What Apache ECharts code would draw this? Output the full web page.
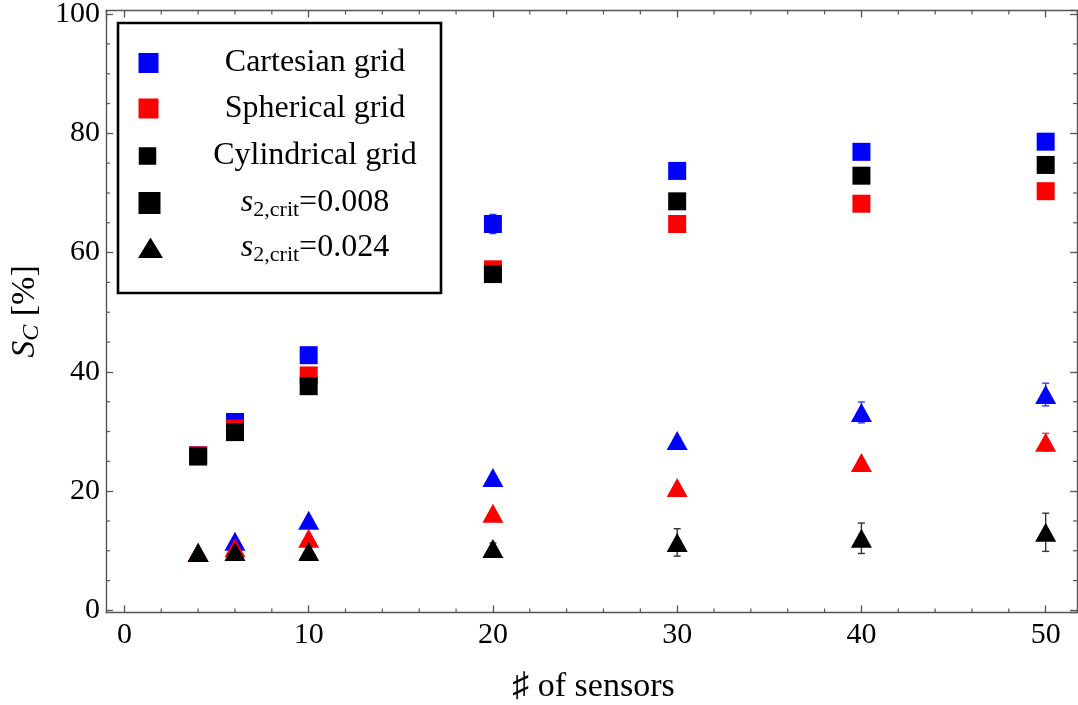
<!DOCTYPE html>
<html>
<head>
<meta charset="utf-8">
<script src="https://cdn.jsdelivr.net/npm/echarts@6/dist/echarts.min.js"></script>
<style>html,body{margin:0;padding:0;background:#fff}#c{width:1078px;height:705px}</style>
</head>
<body>
<div id="c"></div>
<script>
// ---- data ----
const sensors = [4, 6, 10, 20, 30, 40, 50];
// s2,crit = 0.008 (squares)
const cart008 = [26.0, 31.6, 42.8, 64.8, 73.7, 76.9, 78.6];
const sph008  = [26.0, 30.5, 39.4, 57.2, 64.8, 68.2, 70.3];
const cyl008  = [25.8, 29.9, 37.6, 56.4, 68.6, 72.9, 74.7];
// s2,crit = 0.024 (triangles)
const cart024 = [9.7, 11.6, 15.1, 22.3, 28.5, 33.2, 36.2];
const sph024  = [9.7, 10.5, 12.1, 16.3, 20.6, 24.8, 28.2];
const cyl024  = [9.7, 9.9, 9.9, 10.4, 11.4, 12.1, 13.1];
// error bar half-widths
const cart008Err = [0, 0, 0, 1.6, 0, 0, 0];
const cart024Err = [0, 0, 0, 0, 0.5, 1.75, 1.9];
const sph024Err  = [0, 0, 0, 0, 0, 0.5, 1.5];
const cyl024Err  = [0, 0, 0, 0.9, 2.3, 2.55, 3.2];
// axes: plot range (with frame padding) and tick marks
const xRange = [-1.0, 51.7];
const yRange = [-0.35, 100.6];
const xTickLabels = [0, 10, 20, 30, 40, 50];
const yTickLabels = [0, 20, 40, 60, 80, 100];
const xMinorTicks = [2, 4, 6, 8, 12, 14, 16, 18, 22, 24, 26, 28, 32, 34, 36, 38, 42, 44, 46, 48];
const yMinorTicks = [5, 10, 15, 25, 30, 35, 45, 50, 55, 65, 70, 75, 85, 90, 95];
const legendLabels = ['Cartesian grid', 'Spherical grid', 'Cylindrical grid', '0.008', '0.024'];

const BLUE = '#0000ff', RED = '#ff0000', BLACK = '#000000';
const FONT = 'Liberation Serif';
const FRAME = '#555555';

function pts(vals) { return sensors.map((x, i) => [x, vals[i]]); }
function errData(vals, errs) {
  const out = [];
  sensors.forEach((x, i) => { if (errs[i] > 0) out.push([x, vals[i] - errs[i], vals[i] + errs[i]]); });
  return out;
}
function errSeries(vals, errs, color) {
  return {
    type: 'custom', data: errData(vals, errs), z: 2, silent: true, clip: false,
    renderItem: function (params, api) {
      const x = api.value(0);
      const lo = api.coord([x, api.value(1)]);
      const hi = api.coord([x, api.value(2)]);
      const hw = 3.5;
      const st = {stroke: color, lineWidth: 1.4};
      return {type: 'group', children: [
        {type: 'line', shape: {x1: hi[0], y1: hi[1], x2: lo[0], y2: lo[1]}, style: st},
        {type: 'line', shape: {x1: hi[0] - hw, y1: hi[1], x2: hi[0] + hw, y2: hi[1]}, style: st},
        {type: 'line', shape: {x1: lo[0] - hw, y1: lo[1], x2: lo[0] + hw, y2: lo[1]}, style: st}
      ]};
    }
  };
}
function sc(name, vals, color, symbol, size) {
  return {type: 'scatter', name: name, data: pts(vals), symbol: symbol, symbolSize: size,
          itemStyle: {color: color, opacity: 1}, z: 3, silent: true};
}
// minor ticks drawn on all four frame sides through the axis scales
function minorTickSeries(values, dim) {
  return {
    type: 'custom', silent: true, z: 4, clip: false,
    data: values.map(v => [v]),
    renderItem: function (params, api) {
      const cs = params.coordSys;
      const L = 4;
      const st = {stroke: FRAME, lineWidth: 1.2};
      if (dim === 'x') {
        const p = api.coord([api.value(0), yRange[0]]);
        const yb = cs.y + cs.height, yt = cs.y;
        return {type: 'group', children: [
          {type: 'line', shape: {x1: p[0], y1: yb, x2: p[0], y2: yb - L}, style: st},
          {type: 'line', shape: {x1: p[0], y1: yt, x2: p[0], y2: yt + L}, style: st}
        ]};
      } else {
        const p = api.coord([xRange[0], api.value(0)]);
        const xl = cs.x, xr = cs.x + cs.width;
        return {type: 'group', children: [
          {type: 'line', shape: {x1: xl, y1: p[1], x2: xl + L, y2: p[1]}, style: st},
          {type: 'line', shape: {x1: xr, y1: p[1], x2: xr - L, y2: p[1]}, style: st}
        ]};
      }
    }
  };
}

const lineStyle = {color: FRAME, width: 1.4};
const tickStyle = {color: FRAME, width: 1.3};
function fmtX(v) { return xTickLabels.indexOf(v) >= 0 ? String(v) : ''; }
function fmtY(v) { return yTickLabels.indexOf(v) >= 0 ? String(v) : ''; }
function xAxisCfg(pos, showLabel) {
  return {
    type: 'value', position: pos, min: xRange[0], max: xRange[1], splitNumber: 5,
    axisLine: {show: true, onZero: false, lineStyle: lineStyle},
    axisTick: {show: true, inside: true, length: 7, lineStyle: tickStyle},
    splitLine: {show: false},
    axisLabel: {show: showLabel, fontFamily: FONT, fontSize: 30, color: '#000', margin: 8,
                showMinLabel: false, showMaxLabel: false, formatter: fmtX}
  };
}
function yAxisCfg(pos, showLabel) {
  return {
    type: 'value', position: pos, min: yRange[0], max: yRange[1], splitNumber: 5,
    axisLine: {show: true, onZero: false, lineStyle: lineStyle},
    axisTick: {show: true, inside: true, length: 7, lineStyle: tickStyle},
    splitLine: {show: false},
    axisLabel: {show: showLabel, fontFamily: FONT, fontSize: 30, color: '#000', margin: 6,
                showMinLabel: false, showMaxLabel: false, formatter: fmtY}
  };
}

const xb = xAxisCfg('bottom', true);
xb.name = '\u266F of sensors';
xb.nameLocation = 'middle';
xb.nameGap = 58;
xb.nameTextStyle = {fontFamily: FONT, fontSize: 34, color: '#000', padding: [0, 0, 0, 4]};
const xt = xAxisCfg('top', false);
const yl = yAxisCfg('left', true);
yl.name = '{i|S}{sub|C}{n| [%]}';
yl.nameLocation = 'middle';
yl.nameRotate = 90;
yl.nameGap = 59;
yl.nameTextStyle = {fontFamily: FONT, fontSize: 34, color: '#000',
  rich: {i: {fontFamily: FONT, fontSize: 34, fontStyle: 'italic', color: '#000'},
         sub: {fontFamily: FONT, fontSize: 24, fontStyle: 'italic', color: '#000', padding: [14, 0, 0, 0]},
         n: {fontFamily: FONT, fontSize: 34, color: '#000'}}};
const yr = yAxisCfg('right', false);

// legend (drawn as graphic)
const legRows = [63, 108.5, 156, 203, 248];
const legIconX = 148.5;
const legTextX = 315;
const richS = {
  s: {fontFamily: FONT, fontSize: 32, fontStyle: 'italic', fill: '#000'},
  sub: {fontFamily: FONT, fontSize: 22, fill: '#000', padding: [14, 0, 0, 0]},
  n: {fontFamily: FONT, fontSize: 32, fill: '#000'}
};
function legText(y, txt) {
  return {type: 'text', x: legTextX, y: y, silent: true, z: 10,
    style: {text: txt, rich: richS, font: '32px "' + FONT + '"', fill: '#000',
            align: 'center', verticalAlign: 'middle', textAlign: 'center', textVerticalAlign: 'middle'}};
}
function sq(cx, cy, s, color) {
  return {type: 'rect', silent: true, z: 10, shape: {x: cx - s / 2, y: cy - s / 2, width: s, height: s}, style: {fill: color}};
}
const graphics = [
  {type: 'rect', silent: true, z: 9, shape: {x: 118, y: 23, width: 323, height: 270},
   style: {fill: '#fff', stroke: '#000', lineWidth: 2.6}},
  sq(legIconX, legRows[0], 20, BLUE),
  sq(legIconX, legRows[1], 20, RED),
  sq(legIconX - 1, legRows[2], 17.5, BLACK),
  sq(legIconX + 1, legRows[3], 22, BLACK),
  {type: 'polygon', silent: true, z: 10,
   shape: {points: [[legIconX + 2, legRows[4] - 10.5], [legIconX + 14.5, legRows[4] + 10], [legIconX - 10.5, legRows[4] + 10]]},
   style: {fill: BLACK}},
  legText(legRows[0], '{n|' + legendLabels[0] + '}'),
  legText(legRows[1], '{n|' + legendLabels[1] + '}'),
  legText(legRows[2], '{n|' + legendLabels[2] + '}'),
  legText(legRows[3], '{s|s}{sub|2,crit}{n|=' + legendLabels[3] + '}'),
  legText(legRows[4], '{s|s}{sub|2,crit}{n|=' + legendLabels[4] + '}')
];

const chart = echarts.init(document.getElementById('c'), null, {renderer: 'canvas'});
chart.setOption({
  animation: false,
  backgroundColor: '#fff',
  grid: {left: 106, top: 10.5, width: 971, height: 602, containLabel: false, outerBoundsMode: 'none'},
  xAxis: [xb, xt],
  yAxis: [yl, yr],
  graphic: graphics,
  series: [
    minorTickSeries(xMinorTicks, 'x'),
    minorTickSeries(yMinorTicks, 'y'),
    errSeries(cart008, cart008Err, '#3333ff'),
    errSeries(cart024, cart024Err, '#3333ff'),
    errSeries(sph024, sph024Err, '#ff3333'),
    errSeries(cyl024, cyl024Err, '#333333'),
    sc('Cartesian grid', cart008, BLUE, 'rect', 18),
    sc('Spherical grid', sph008, RED, 'rect', 18),
    sc('Cylindrical grid', cyl008, BLACK, 'rect', 18),
    sc('Cartesian grid 0.024', cart024, BLUE, 'triangle', [21, 19]),
    sc('Spherical grid 0.024', sph024, RED, 'triangle', [21, 19]),
    sc('Cylindrical grid 0.024', cyl024, BLACK, 'triangle', [21, 19])
  ]
});
</script>
</body>
</html>
